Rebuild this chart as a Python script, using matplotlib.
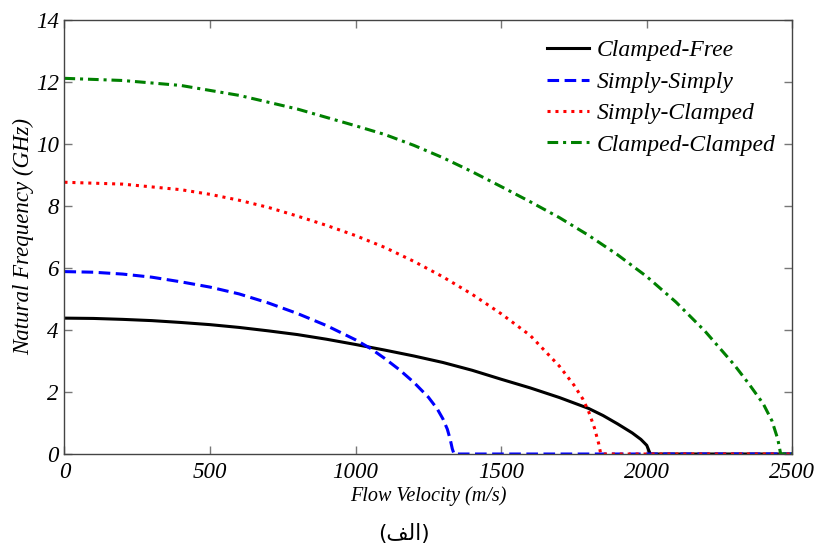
import numpy as np
import matplotlib
matplotlib.use("Agg")
import matplotlib.pyplot as plt

# flow velocity (m/s) and natural frequency (GHz) for each boundary condition
u_cf = [0, 100, 200, 300, 400, 500, 600, 700, 800, 900, 1000, 1100, 1200, 1300,
        1400, 1500, 1600, 1700, 1800, 1850, 1900, 1950, 1980, 2000, 2012, 2500]
f_cf = [4.38, 4.37, 4.34, 4.30, 4.24, 4.17, 4.08, 3.97, 3.85, 3.70, 3.53, 3.35, 3.16, 2.95,
        2.70, 2.41, 2.13, 1.82, 1.47, 1.24, 0.97, 0.68, 0.47, 0.28, 0.0, 0.0]

u_ss = [0, 100, 200, 300, 400, 500, 600, 700, 800, 900, 1000, 1050, 1100, 1150,
        1200, 1250, 1280, 1300, 1315, 1325, 1332, 1338, 2500]
f_ss = [5.88, 5.86, 5.80, 5.70, 5.55, 5.38, 5.16, 4.87, 4.53, 4.14, 3.68, 3.41, 3.08, 2.72,
        2.31, 1.83, 1.46, 1.13, 0.80, 0.47, 0.17, 0.0, 0.0]

u_sc = [0, 200, 400, 500, 600, 700, 800, 900, 1000, 1100, 1200, 1300, 1400, 1500,
        1600, 1700, 1750, 1780, 1800, 1820, 1835, 1842, 2500]
f_sc = [8.76, 8.70, 8.52, 8.37, 8.18, 7.95, 7.67, 7.37, 7.04, 6.66, 6.21, 5.71, 5.15, 4.52,
        3.82, 2.83, 2.22, 1.78, 1.38, 0.85, 0.33, 0.0, 0.0]

u_cc = [0, 200, 400, 600, 800, 1000, 1100, 1200, 1300, 1400, 1500, 1600, 1700, 1800,
        1900, 2000, 2100, 2200, 2300, 2350, 2400, 2430, 2450, 2460, 2500]
f_cc = [12.11, 12.04, 11.88, 11.56, 11.12, 10.58, 10.30, 9.95, 9.55, 9.10, 8.62, 8.13, 7.62, 7.05,
        6.42, 5.72, 4.90, 3.96, 2.88, 2.27, 1.62, 1.07, 0.48, 0.0, 0.0]

labels = ["Clamped-Free", "Simply-Simply", "Simply-Clamped", "Clamped-Clamped"]

serif = "Liberation Serif"

fig = plt.figure(figsize=(8.16, 5.47), dpi=100)
ax = fig.add_axes([0.079, 0.170, 0.892, 0.794])

ax.plot(u_cf, f_cf, color="black", lw=2.2, ls="-", label=labels[0])
ax.plot(u_ss, f_ss, color="#0000ff", lw=2.2, ls=(0, (3.8, 1.8)), label=labels[1])
ax.plot(u_sc, f_sc, color="#ff0000", lw=2.2, ls=(0, (1, 1.6)), label=labels[2])
ax.plot(u_cc, f_cc, color="#008000", lw=2.2, ls=(0, (3.5, 1.6, 1, 1.6)), label=labels[3])

ax.set_xlim(0, 2500)
ax.set_ylim(0, 14)
ax.set_xticks(np.arange(0, 2501, 500))
ax.set_yticks(np.arange(0, 15, 2))

for sp in ax.spines.values():
    sp.set_color("#444444")
    sp.set_linewidth(1.0)
ax.tick_params(direction="in", top=True, right=True, length=6, width=1,
               color="#777777", labelsize=16.5)
ax.tick_params(axis="x", pad=6)
ax.tick_params(axis="y", pad=4)
for t in ax.get_xticklabels() + ax.get_yticklabels():
    t.set_fontfamily(serif)
    t.set_fontstyle("italic")

ax.set_xlabel("Flow Velocity (m/s)", family=serif, style="italic", fontsize=14.5, labelpad=2)
ax.set_ylabel("Natural Frequency (GHz)", family=serif, style="italic", fontsize=16.5, labelpad=1)

leg = ax.legend(loc="upper right", bbox_to_anchor=(0.9894, 0.9754), frameon=False,
                handlelength=1.8, handletextpad=0.3, labelspacing=0.42, borderaxespad=0,
                prop={"family": serif, "style": "italic", "size": 17})

# caption under the chart
fig.text(0.495, 0.006, "(ﻒﻟﺍ)", ha="center", va="bottom", fontsize=15.5,
         family="DejaVu Sans")

fig.savefig("out.png", dpi=100)
